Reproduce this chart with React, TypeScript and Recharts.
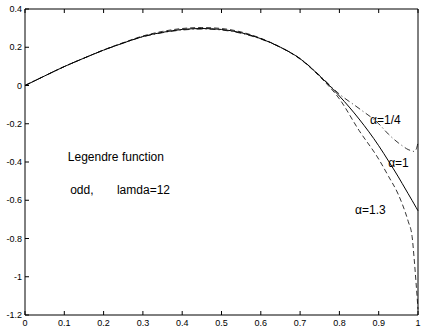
import { LineChart, Line, XAxis, YAxis, ReferenceDot } from 'recharts'

const xs = [0, 0.05, 0.1, 0.15, 0.2, 0.25, 0.3, 0.35, 0.4, 0.45, 0.5, 0.55, 0.6, 0.65, 0.7, 0.75, 0.8, 0.85, 0.9, 0.925, 0.95, 0.96, 0.975, 0.985, 0.99, 0.995, 1]
const alphaOne = [0, 0.05, 0.099, 0.143, 0.185, 0.222, 0.256, 0.278, 0.293, 0.298, 0.293, 0.276, 0.245, 0.2, 0.14, 0.05, -0.055, -0.175, -0.315, -0.395, -0.478, -0.513, -0.566, -0.601, -0.619, -0.637, -0.655]
const alphaQuarter = [0, 0.05, 0.099, 0.143, 0.185, 0.222, 0.255, 0.276, 0.29, 0.295, 0.29, 0.273, 0.243, 0.2, 0.141, 0.052, -0.045, -0.12, -0.2, -0.255, -0.3, -0.315, -0.335, -0.342, -0.345, -0.335, -0.3]
const alphaOneThree = [0, 0.05, 0.099, 0.143, 0.186, 0.224, 0.259, 0.283, 0.298, 0.303, 0.298, 0.28, 0.247, 0.2, 0.138, 0.046, -0.07, -0.235, -0.385, -0.475, -0.57, -0.62, -0.71, -0.79, -0.9, -1.03, -1.17]

const xTicks = [0, 0.1, 0.2, 0.3, 0.4, 0.5, 0.6, 0.7, 0.8, 0.9, 1]
const yTicks = [-1.2, -1, -0.8, -0.6, -0.4, -0.2, 0, 0.2, 0.4]

const notes = [
  { x: 0.109, y: -0.376, text: 'Legendre function' },
  { x: 0.115, y: -0.548, text: 'odd,' },
  { x: 0.234, y: -0.548, text: 'lamda=12' },
  { x: 0.878, y: -0.178, text: 'α=1/4' },
  { x: 0.924, y: -0.407, text: 'α=1' },
  { x: 0.84, y: -0.653, text: 'α=1.3' },
]

const data = xs.map((x, i) => ({ x, a1: alphaOne[i], aq: alphaQuarter[i], a13: alphaOneThree[i] }))

const font = '"Liberation Sans", Arial, Helvetica, sans-serif'
const T = 4

// matlab style: tick marks point into the box
const LeftTick = (p: any) => (
  <g>
    <line x1={p.x + 3} x2={p.x + 3 + T} y1={p.y} y2={p.y} stroke="#000" />
    <text x={p.x} y={p.y} textAnchor="end" dominantBaseline="central" fontSize={9} fontFamily={font} fill="#000">
      {String(p.payload.value)}
    </text>
  </g>
)
const BottomTick = (p: any) => (
  <g>
    <line x1={p.x} x2={p.x} y1={p.y} y2={p.y - T} stroke="#000" />
    <text x={p.x} y={p.y + 11} textAnchor="middle" fontSize={9} fontFamily={font} fill="#000">
      {String(p.payload.value)}
    </text>
  </g>
)
const RightTick = (p: any) => <line x1={p.x} x2={p.x - T} y1={p.y} y2={p.y} stroke="#000" />
const TopTick = (p: any) => <line x1={p.x} x2={p.x} y1={p.y} y2={p.y + T} stroke="#000" />

const noteLabel = (text: string) => (props: any) => {
  const vb = props.viewBox
  return (
    <text x={vb.x} y={vb.y} dominantBaseline="central" fontSize={12} fontFamily={font} fill="#000">
      {text}
    </text>
  )
}

export default function App() {
  return (
    <div style={{ position: 'absolute', left: 0, top: 0, background: '#fff' }}>
      <LineChart width={425} height={335} data={data} margin={{ top: 8, right: 6, bottom: 0, left: 0 }}>
        <XAxis xAxisId="b" dataKey="x" type="number" domain={[0, 1]} ticks={xTicks} height={20}
          stroke="#000" tickLine={false} tickSize={0} tickMargin={0} tick={BottomTick} />
        <XAxis xAxisId="t" orientation="top" dataKey="x" type="number" domain={[0, 1]} ticks={xTicks} height={1}
          stroke="#000" tickLine={false} tickSize={0} tickMargin={0} tick={TopTick} />
        <YAxis yAxisId="l" type="number" domain={[-1.2, 0.4]} ticks={yTicks} width={25}
          stroke="#000" tickLine={false} tickSize={0} tickMargin={3} tick={LeftTick} />
        <YAxis yAxisId="r" orientation="right" type="number" domain={[-1.2, 0.4]} ticks={yTicks} width={1}
          stroke="#000" tickLine={false} tickSize={0} tickMargin={0} tick={RightTick} />
        <Line xAxisId="b" yAxisId="l" type="monotone" dataKey="aq" stroke="#000" strokeWidth={0.8}
          strokeDasharray="6 3 1 3" dot={false} isAnimationActive={false} />
        <Line xAxisId="b" yAxisId="l" type="monotone" dataKey="a13" stroke="#000" strokeWidth={0.8}
          strokeDasharray="5 3" dot={false} isAnimationActive={false} />
        <Line xAxisId="b" yAxisId="l" type="monotone" dataKey="a1" stroke="#000" strokeWidth={1}
          dot={false} isAnimationActive={false} />
        {notes.map((n) => (
          <ReferenceDot key={n.text} xAxisId="b" yAxisId="l" x={n.x} y={n.y} r={0}
            fill="none" stroke="none" label={noteLabel(n.text)} />
        ))}
      </LineChart>
    </div>
  )
}
